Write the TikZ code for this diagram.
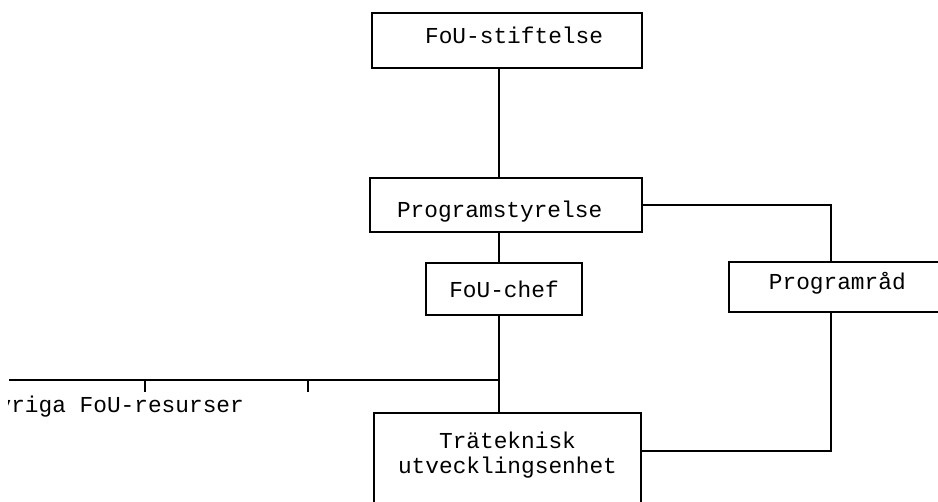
\documentclass[tikz,border=0pt]{standalone}
\usepackage{fontspec}
\setmonofont{Liberation Mono}
\begin{document}
\begin{tikzpicture}[x=0.5pt, y=-0.5pt, line width=0.9pt,
        box/.style={draw, inner sep=0pt, font=\ttfamily\fontsize{11.4}{12.5}\selectfont}]
        \useasboundingbox (0,0) rectangle (938,502);
        \clip (0,0) rectangle (938,502);

        \node[box, inner xsep=19.5pt, text width=96pt, align=right, text height=15.5pt, text depth=12pt] (stift) at (507, 40.5) {FoU-stiftelse};
        \node[box, inner xsep=13.5pt, text width=109pt, align=left, text height=20pt, text depth=7pt] (styr) at (506, 205) {Programstyrelse};
        \node[box, minimum width=78pt, text height=17.5pt, text depth=8.5pt] (chef) at (504, 289) {FoU-chef};
        \node[box, anchor=west, text height=14pt, text depth=11pt, inner xsep=20pt, text width=86pt, align=left] (rad) at (728, 287) {Programråd};
        \node[box, anchor=north, minimum width=133.5pt, inner ysep=9.7pt, text depth=10pt, align=center] (tra) at (507.5, 412) {Träteknisk\\utvecklingsenhet};
        \begin{scope}
            \clip (8, 0) rectangle (938, 502);
            \node[anchor=base west, inner sep=0pt, font=\ttfamily\fontsize{11.4}{12}\selectfont] (ovriga) at (-17, 413) {Övriga FoU-resurser};
        \end{scope}

        \coordinate (knut) at (499, 380);
        \coordinate (vanster) at (9, 380);
        \coordinate (hornet) at (831, 451);

        \draw (stift.south -| knut) -- (styr.north -| knut);
        \draw (styr.south -| knut) -- (chef.north -| knut);
        \draw (chef.south -| knut) -- (tra.north -| knut);
        \draw (vanster) -- (knut);
        \foreach \x in {145, 308}
            \draw (\x, 380) -- ++(0, 12);

        \draw (styr.east) -| (rad.north -| hornet);
        \draw (rad.south -| hornet) -- (hornet) -- (hornet -| tra.east);
    \end{tikzpicture}
\end{document}
